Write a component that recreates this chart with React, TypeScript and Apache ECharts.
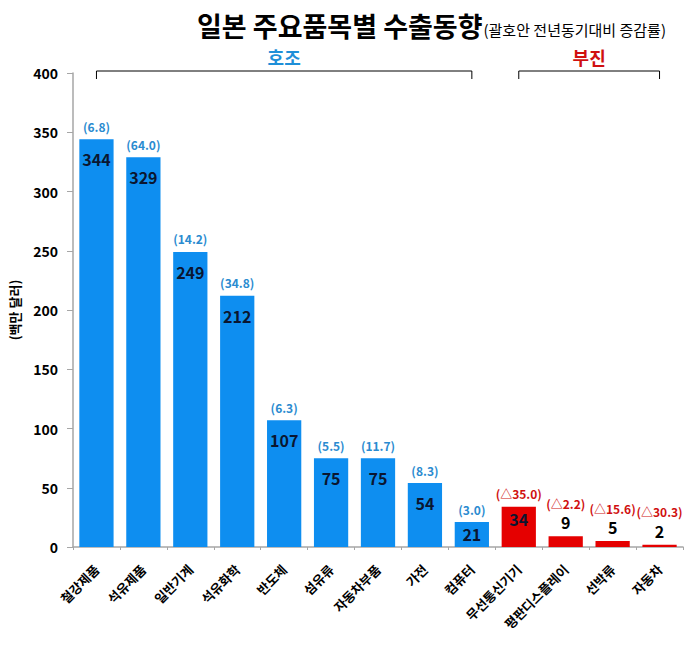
import React, { useEffect, useRef } from "react";
import * as echarts from "echarts";

const categories = ["철강제품", "석유제품", "일반기계", "석유화학", "반도체", "섬유류", "자동차부품", "가전", "컴퓨터", "무선통신기기", "평판디스플레이", "선박류", "자동차"];
const values = [344, 329, 249, 212, 107, 75, 75, 54, 21, 34, 9, 5, 2];
const growth = [6.8, 64.0, 14.2, 34.8, 6.3, 5.5, 11.7, 8.3, 3.0, -35.0, -2.2, -15.6, -30.3];
const groupNames = ["호조", "부진"];
const yTicks = { min: 0, max: 400, interval: 50 };
const titleMain = "일본 주요품목별 수출동향";
const titleSub = "(괄호안 전년동기대비 증감률)";
const yName = "(백만 달러)";

const FONT = "'Noto Sans CJK KR', 'Noto Sans', sans-serif";
const BLUE = "#0E8EF0";
const RED = "#E50000";
const BLUE_TXT = "#2A8BD0";
const RED_TXT = "#D01010";
const INSIDE_MIN = 20;
const SHORT_BAR = 40;

function fmtGrowth(g: number) {
  return g < 0 ? `(△${Math.abs(g).toFixed(1)})` : `(${g.toFixed(1)})`;
}

export default function App() {
  const ref = useRef<HTMLDivElement>(null);
  useEffect(() => {
    const chart = echarts.init(ref.current!, null, { renderer: "svg" });
    const option: any = {
      animation: false,
      textStyle: { fontFamily: FONT },
      grid: { left: 73, right: 10, top: 73, bottom: 99 },
      xAxis: {
        type: "category",
        data: categories,
        axisLine: { lineStyle: { color: "#A6A6A6", width: 1.5 } },
        axisTick: { show: true, length: 3, lineStyle: { color: "#A6A6A6" } },
        axisLabel: {
          rotate: 45,
          interval: 0,
          color: "#000",
          fontSize: 13,
          fontWeight: "bold",
          fontFamily: FONT,
          margin: 20,
        },
      },
      yAxis: {
        type: "value",
        min: yTicks.min,
        max: yTicks.max,
        interval: yTicks.interval,
        name: yName,
        nameLocation: "middle",
        nameGap: 52,
        nameRotate: 90,
        nameTextStyle: { color: "#000", fontSize: 13, fontWeight: "bold", fontFamily: FONT },
        splitLine: { show: false },
        axisLine: { show: true, lineStyle: { color: "#A6A6A6", width: 1.5 } },
        axisTick: { show: true, length: 6, lineStyle: { color: "#A6A6A6" } },
        axisLabel: { color: "#000", fontSize: 14, fontWeight: "bold", fontFamily: FONT, margin: 15 },
      },
      series: [
        {
          type: "bar",
          barWidth: "73%",
          data: values.map((v, i) => ({
            value: v,
            itemStyle: { color: growth[i] < 0 ? RED : BLUE },
            label: {
              show: v >= INSIDE_MIN,
              position: "insideTop",
              distance: v < SHORT_BAR ? 4 : 12,
              color: "#0A1630",
              fontSize: 16,
              fontWeight: "bold",
              fontFamily: FONT,
              formatter: String(v),
            },
          })),
        },
        {
          type: "bar",
          barWidth: "73%",
          barGap: "-100%",
          silent: true,
          itemStyle: { color: "rgba(0,0,0,0)" },
          data: values,
          label: {
            show: true,
            position: "top",
            distance: 4,
            fontFamily: FONT,
            formatter: (p: any) => {
              const i = p.dataIndex;
              const key = growth[i] < 0 ? "n" : "p";
              const t = `{${key}|${fmtGrowth(growth[i])}}`;
              return values[i] < INSIDE_MIN ? `${t}\n{v|${values[i]}}` : t;
            },
            rich: {
              p: { color: BLUE_TXT, fontSize: 12, fontWeight: 600, fontFamily: FONT, lineHeight: 18 },
              n: { color: RED_TXT, fontSize: 12, fontWeight: 600, fontFamily: FONT, lineHeight: 18 },
              v: { color: "#000", fontSize: 16, fontWeight: "bold", fontFamily: FONT, lineHeight: 20 },
            },
          },
        },
      ],
    };
    chart.setOption(option);

    const groups: { name: string; color: string; idx: number[] }[] = [
      { name: groupNames[0], color: "#1E8FD8", idx: [] },
      { name: groupNames[1], color: RED_TXT, idx: [] },
    ];
    growth.forEach((g, i) => groups[g < 0 ? 1 : 0].idx.push(i));
    const yTop = 71;
    const mainFont = `bold 27px ${FONT}`;
    const graphics: any[] = [
      {
        type: "text",
        x: 197,
        y: 25,
        style: { text: titleMain, font: mainFont, fill: "#000", verticalAlign: "middle", align: "left" },
      },
    ];
    let mainW = 290;
    try {
      mainW = (echarts as any).format.getTextRect(titleMain, mainFont).width || 290;
    } catch (e) {}
    graphics.push({
      type: "text",
      x: 197 + mainW + 1,
      y: 29,
      style: { text: titleSub, font: `15px ${FONT}`, fill: "#000", verticalAlign: "middle", align: "left" },
    });
    groups.forEach((g) => {
      const x1 = chart.convertToPixel({ xAxisIndex: 0 }, g.idx[0]) as number;
      const x2 = chart.convertToPixel({ xAxisIndex: 0 }, g.idx[g.idx.length - 1]) as number;
      graphics.push({
        type: "polyline",
        shape: { points: [[x1, yTop + 8], [x1, yTop], [x2, yTop], [x2, yTop + 8]] },
        style: { stroke: "#000", lineWidth: 1, fill: "none" },
      });
      graphics.push({
        type: "text",
        x: (x1 + x2) / 2,
        y: 57,
        style: { text: g.name, font: `bold 18px ${FONT}`, fill: g.color, align: "center", verticalAlign: "middle" },
      });
    });
    chart.setOption({ graphic: graphics });
    return () => chart.dispose();
  }, []);
  return (
    <div
      ref={ref}
      style={{ position: "absolute", left: 0, top: 0, width: 693, height: 646, background: "#fff" }}
    />
  );
}
